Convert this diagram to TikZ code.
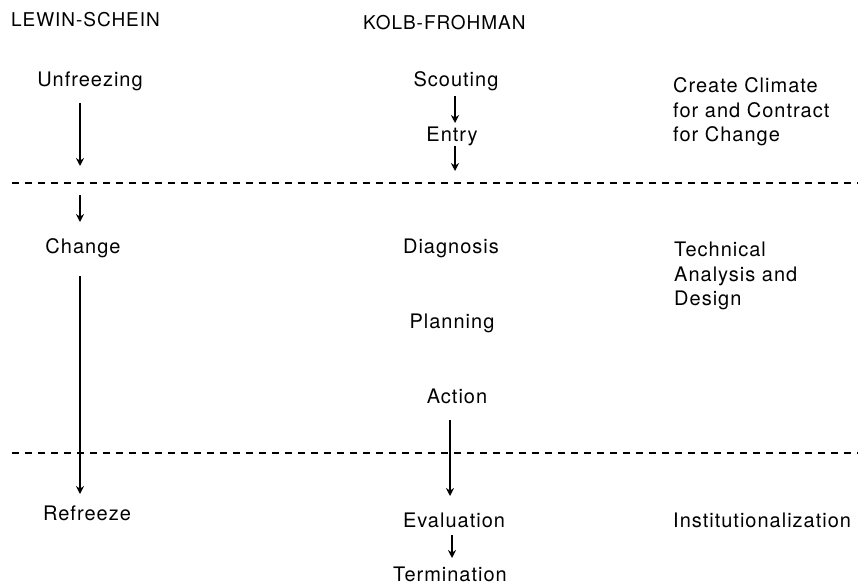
\documentclass[tikz,border=0pt]{standalone}
\usepackage{fontspec}
\setmainfont{TeX Gyre Heros}[LetterSpace=5]
\usetikzlibrary{arrows.meta}
\begin{document}
\begin{tikzpicture}[x=1pt,y=-1pt,
  lbl/.style={inner sep=0pt,font=\fontsize{20}{24}\selectfont,anchor=base},
  hdr/.style={inner sep=0pt,font=\fontsize{19}{23}\selectfont,anchor=base west},
  side/.style={inner sep=0pt,font=\fontsize{20}{24.5}\selectfont,anchor=north west,align=left},
  flow/.style={line width=1.8pt,-{Stealth[length=8pt,width=8pt]}},
  sep/.style={line width=1.4pt,dash pattern=on 7pt off 6pt}]
\useasboundingbox (0,0) rectangle (858,585);
% headers
\node[hdr] (lewin) at (11,27) {LEWIN-SCHEIN};
\node[hdr] (kolb) at (363,30) {KOLB-FROHMAN};
% left column
\node[lbl] (unfr) at (90,87) {Unfreezing};
\node[lbl] (chg) at (83,253) {Change};
\node[lbl] (refr) at (87,520) {Refreeze};
% middle column
\node[lbl] (scout) at (456,87) {Scouting};
\node[lbl] (entry) at (452,142) {Entry};
\node[lbl] (diag) at (451,253) {Diagnosis};
\node[lbl] (plan) at (452,328) {Planning};
\node[lbl] (act) at (457,403) {Action};
\node[lbl] (eval) at (454,527) {Evaluation};
\node[lbl] (term) at (450,581) {Termination};
% right column
\node[side] (create) at (673,77.5) {Create Climate\\for and Contract\\for Change};
\node[side] (tech) at (674,242) {Technical\\Analysis and\\Design};
\node[lbl,anchor=base west] (inst) at (673,527) {Institutionalization};
% separators
\coordinate (s1a) at (12,183); \coordinate (s1b) at (858,183);
\coordinate (s2a) at (12,453); \coordinate (s2b) at (858,453);
\draw[sep] (s1a) -- (s1b);
\draw[sep] (s2a) -- (s2b);
% arrows left
\coordinate (a1s) at (80,103); \coordinate (a1e) at (80,166);
\coordinate (a2s) at (80,195); \coordinate (a2e) at (80,222);
\coordinate (a3s) at (80,276); \coordinate (a3e) at (80,494);
\draw[flow] (a1s) -- (a1e);
\draw[flow] (a2s) -- (a2e);
\draw[flow] (a3s) -- (a3e);
% arrows middle
\coordinate (b1s) at (455,96); \coordinate (b1e) at (455,123);
\coordinate (b2s) at (455,146); \coordinate (b2e) at (455,171);
\coordinate (b3s) at (450,420); \coordinate (b3e) at (450,496);
\coordinate (b4s) at (452,535); \coordinate (b4e) at (452,558);
\draw[flow] (b1s) -- (b1e);
\draw[flow] (b2s) -- (b2e);
\draw[flow] (b3s) -- (b3e);
\draw[flow] (b4s) -- (b4e);
\end{tikzpicture}
\end{document}
